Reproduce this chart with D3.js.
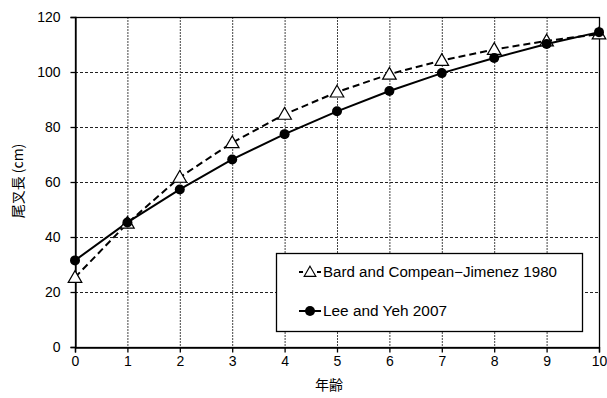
<!DOCTYPE html>
<html><head><meta charset="utf-8">
<script src="https://cdn.jsdelivr.net/npm/d3@7"></script>
<style>body{margin:0;background:#fff;} text{font-family:"Liberation Sans",Arial,sans-serif;}</style>
</head><body>
<svg id="c" width="607" height="398"></svg>
<script>
const ages = [0,1,2,3,4,5,6,7,8,9,10];
const bardValues = [25.3,45,61.7,74.3,84.6,92.7,99.2,104.2,108.2,111.3,113.8];
const leeValues = [31.5,45.3,57.3,68.2,77.4,85.7,93.1,99.6,105.1,110.2,114.5];
const seriesNames = ["Bard and Compean\u2212Jimenez 1980","Lee and Yeh 2007"];
const xTicks = [0,1,2,3,4,5,6,7,8,9,10];
const yTicks = [0,20,40,60,80,100,120];
const xTitle = "年齢", yTitle = "尾叉長 (cm)";

const svg = d3.select("#c");
const L=75,R=599,T=17,B=347;
const x = d3.scaleLinear().domain([0,10]).range([L,R]);
const y = d3.scaleLinear().domain([0,120]).range([B,T]);

// grid
svg.append("g").selectAll("line").data(yTicks.filter(v=>v>0&&v<120)).join("line")
  .attr("x1",L).attr("x2",R).attr("y1",d=>y(d)+0.5).attr("y2",d=>y(d)+0.5)
  .attr("stroke","#222").attr("stroke-dasharray","3,2").attr("stroke-width",1);
svg.append("g").selectAll("line").data(xTicks.filter(v=>v>0&&v<10)).join("line")
  .attr("y1",T).attr("y2",B).attr("x1",d=>x(d)+0.5).attr("x2",d=>x(d)+0.5)
  .attr("stroke","#444").attr("stroke-dasharray","2,1").attr("stroke-width",1);

// border
svg.append("rect").attr("x",L+0.5).attr("y",T+0.5).attr("width",R-L).attr("height",B-T)
  .attr("fill","none").attr("stroke","#000").attr("stroke-width",1.3);

// axes
const xa = svg.append("g").attr("transform",`translate(0,${B+0.5})`)
  .call(d3.axisBottom(x).tickValues(xTicks).tickSize(5).tickPadding(4).tickFormat(d3.format("d")));
const ya = svg.append("g").attr("transform",`translate(${L+0.5},0)`)
  .call(d3.axisLeft(y).tickValues(yTicks).tickSize(5).tickPadding(10).tickFormat(d3.format("d")));
[xa,ya].forEach(a=>{a.select(".domain").attr("stroke","#000").attr("stroke-width",1.3);
  a.selectAll(".tick line").attr("stroke","#000").attr("stroke-width",1.3);
  a.selectAll("text").attr("font-size",14).attr("fill","#000").attr("font-family","Liberation Sans, Arial");});

// lines
const line = d3.line().x((d,i)=>x(ages[i])).y(d=>y(d));
svg.append("path").datum(bardValues).attr("d",line).attr("fill","none").attr("stroke","#000")
  .attr("stroke-width",2).attr("stroke-dasharray","7,4");
svg.append("path").datum(leeValues).attr("d",line).attr("fill","none").attr("stroke","#000")
  .attr("stroke-width",2);

const tri = d3.symbol().type(d3.symbolTriangle).size(80);
svg.append("g").selectAll("path").data(bardValues).join("path")
  .attr("d",tri).attr("transform",(d,i)=>`translate(${x(ages[i])},${y(d)+1})`)
  .attr("fill","#fff").attr("stroke","#000").attr("stroke-width",1.2);
svg.append("g").selectAll("circle").data(leeValues).join("circle")
  .attr("cx",(d,i)=>x(ages[i])).attr("cy",d=>y(d)).attr("r",5).attr("fill","#000");

// legend
const lg = svg.append("g");
lg.append("rect").attr("x",276.5).attr("y",253.5).attr("width",306).attr("height",78)
  .attr("fill","#fff").attr("stroke","#000").attr("stroke-width",1.3);
lg.append("line").attr("x1",299).attr("x2",321).attr("y1",272).attr("y2",272)
  .attr("stroke","#000").attr("stroke-width",2).attr("stroke-dasharray","4,14");
lg.append("path").attr("d",d3.symbol().type(d3.symbolTriangle).size(60)).attr("transform","translate(310,273)")
  .attr("fill","#fff").attr("stroke","#000").attr("stroke-width",1.1);
lg.append("line").attr("x1",299).attr("x2",321).attr("y1",311).attr("y2",311)
  .attr("stroke","#000").attr("stroke-width",2);
lg.append("circle").attr("cx",310).attr("cy",311).attr("r",5).attr("fill","#000");
lg.selectAll("text").data(seriesNames).join("text")
  .attr("x",323).attr("y",(d,i)=>[272,311][i]).attr("dy","0.35em")
  .attr("font-size",14).attr("textLength",(d,i)=>[234,124][i]).attr("lengthAdjust","spacingAndGlyphs").text(d=>d);

// titles
svg.append("text").attr("x",329).attr("y",390).attr("text-anchor","middle")
  .attr("font-size",14).style("font-family","'Noto Sans CJK JP',sans-serif").text(xTitle);
svg.append("text").attr("transform","translate(18,181) rotate(-90)").attr("text-anchor","middle")
  .attr("dy","0.35em").attr("font-size",14).style("font-family","'Noto Sans CJK JP',sans-serif").text(yTitle);
</script>
</body></html>
